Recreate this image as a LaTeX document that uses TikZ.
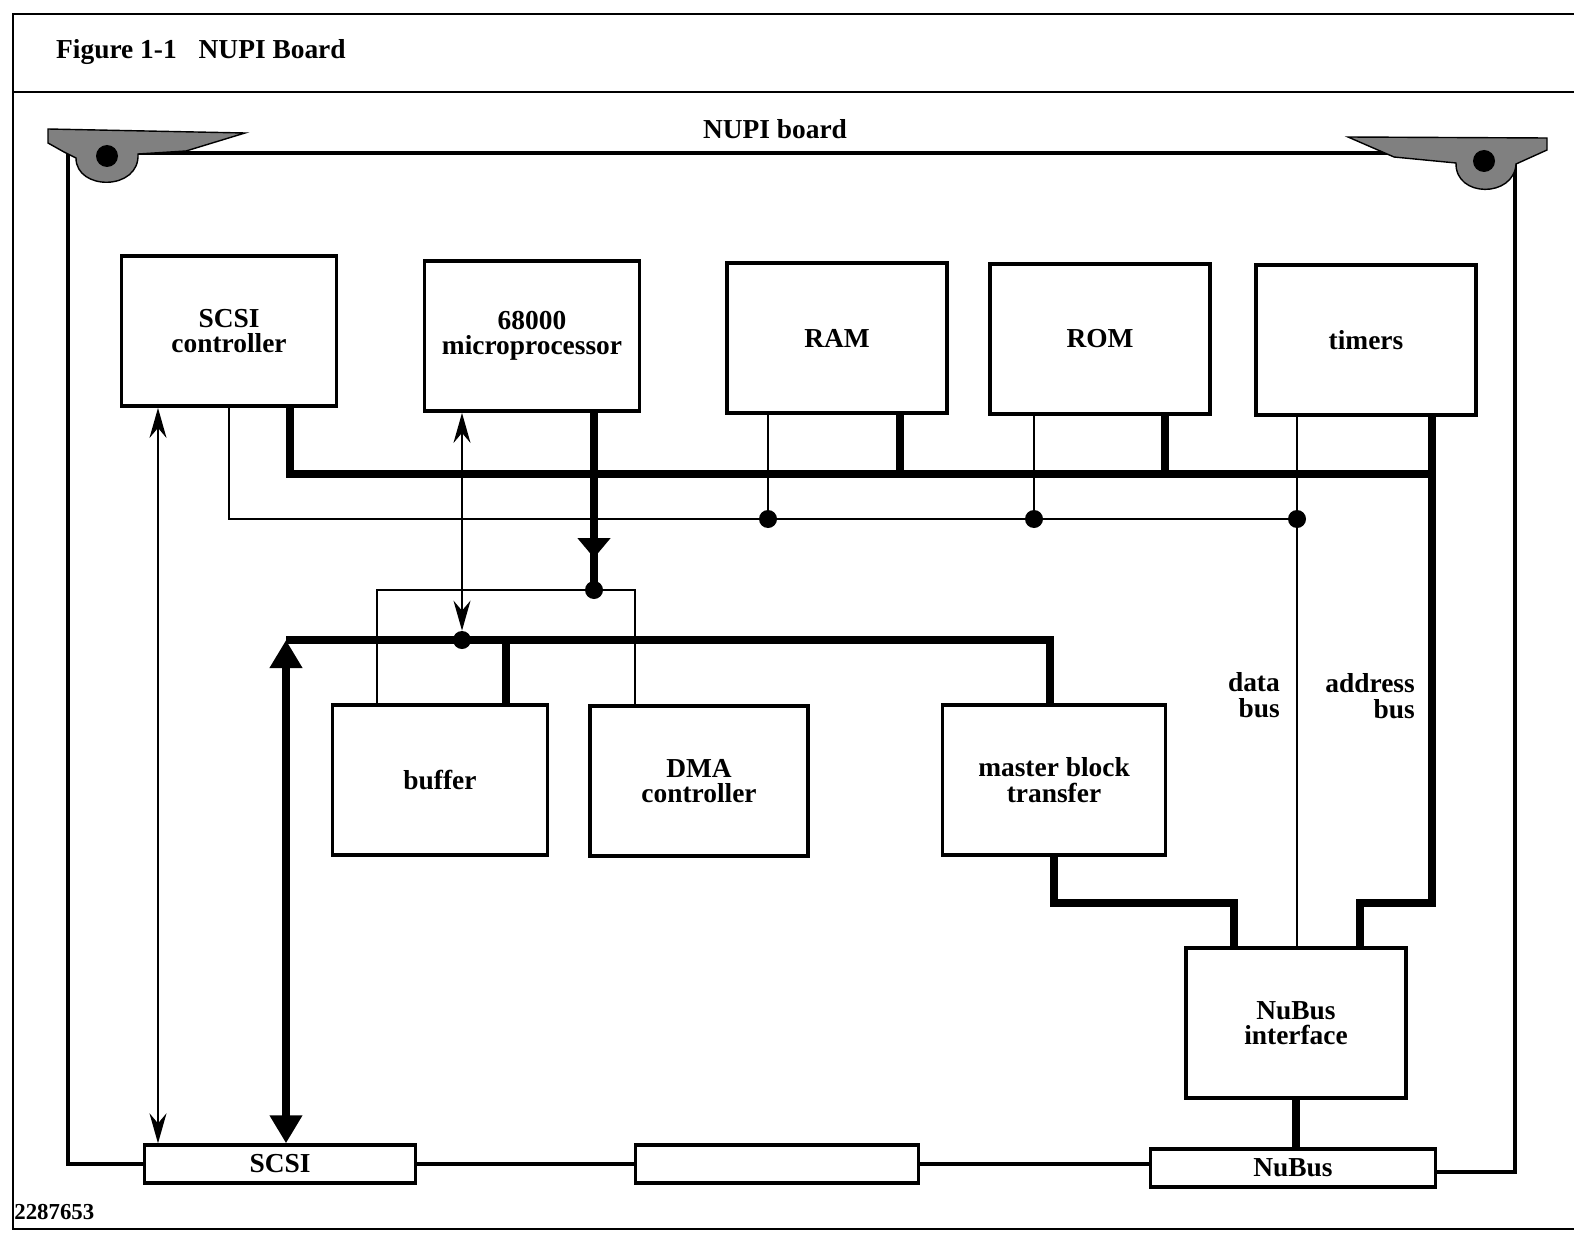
\documentclass[tikz,border=0pt]{standalone}
\usepackage{fontspec}
\setmainfont{Liberation Serif}
\usetikzlibrary{positioning,arrows.meta}
\newcommand{\boxfont}{\fontsize{15.6}{14.4}\selectfont\bfseries}
\newcommand{\numfont}{\fontsize{13}{13}\selectfont\bfseries}

\begin{document}
\begin{tikzpicture}[x=0.2mm, y=-0.2mm,
    blk/.style={draw, line width=2.2pt, minimum width=4.4cm, minimum height=3cm,
                align=center, inner sep=2pt, font=\boxfont},
    conn/.style={draw, line width=2.2pt, minimum height=0.75cm, inner sep=0pt,
                 font=\boxfont},
    frame/.style={line width=1.1pt},
    edge/.style={line width=2.2pt},
    bus/.style={line width=4.2pt},
    dbus/.style={line width=1.1pt},
    dot/.style={circle, fill, inner sep=0pt, minimum size=3.6mm},
    arr/.style={{Stealth[length=6mm, width=3.4mm, inset=2mm]}-{Stealth[length=6mm, width=3.4mm, inset=2mm]},
                line width=1.1pt},
    barr/.style={{Triangle[length=5.6mm, width=6.2mm]}-{Triangle[length=5.6mm, width=6.2mm]},
                 line width=4.2pt},
    ejector/.style={draw, line width=0.8pt, fill=black!50},
    lbl/.style={font=\boxfont, align=right}
  ]
  \useasboundingbox (0,0) rectangle (1574,1243);

  % ================= FRAME AND CAPTION =================
  \draw[frame] (1574,14) -- (13,14) -- (13,1229) -- (1574,1229);
  \draw[frame] (13,92) -- (1574,92);
  \node[anchor=west, font=\boxfont] (title) at (50,52) {Figure 1-1\hspace{0.8em}NUPI Board};
  \node[anchor=west, font=\numfont, inner sep=0pt] (figno) at (14,1212) {2287653};

  % ================= BOARD =================
  \node[font=\boxfont] (board) at (775,129) {NUPI board};

  \node[conn, minimum width=5.42cm] (scsicon)  at (280,1164) {SCSI};
  \node[conn, minimum width=5.66cm] (midcon)   at (777,1164) {};
  \node[conn, minimum width=5.7cm]  (nubuscon) at (1293,1168) {NuBus};

  \draw[edge] (scsicon.west) -- (68,1164) -- (68,153) -- (1515,153)
    -- (1515,1172) -- (nubuscon.east |- 0,1172);
  \draw[edge] (scsicon.east) -- (midcon.west);
  \draw[edge] (midcon.east) -- (nubuscon.west |- midcon.east);

  % card ejectors
  \draw[ejector] (48,129) -- (245,133) -- (186,151) -- (138,154)
    .. controls (140,191) and (76,191) .. (76,158) -- (64,152) -- (48,143) -- cycle;
  \fill (107,156) circle (11);
  \draw[ejector] (1348,137) -- (1547,138) -- (1547,150) -- (1516,164)
    .. controls (1514,198) and (1455,198) .. (1456,163) -- (1394,157) -- cycle;
  \fill (1484,161) circle (11);

  % ================= FUNCTIONAL BLOCKS =================
  \node[blk, minimum width=4.3cm] (scsictl) at (229,331) {SCSI\\controller};
  \node[blk, minimum width=4.3cm] (cpu)     at (532,336) {68000\\microprocessor};
  \node[blk] (ram)    at (837,338) {RAM};
  \node[blk] (rom)    at (1100,339) {ROM};
  \node[blk] (timers) at (1366,340) {timers};

  \node[blk, minimum width=4.3cm] (buffer) at (440,780) {buffer};
  \node[blk, minimum width=4.36cm] (dma)   at (699,781) {DMA\\controller};
  \node[blk, minimum width=4.46cm] (mbt)   at (1054,780) {master block\\transfer};
  \node[blk] (nubusif) at (1296,1023) {NuBus\\interface};

  % ================= ADDRESS BUS (thick) =================
  \coordinate (abL) at (290,474);
  \coordinate (abR) at (1432,474);
  \coordinate (ramA) at (900,474);
  \coordinate (romA) at (1165,474);
  \coordinate (abD) at (1432,903);
  \coordinate (abN) at (1360,903);
  \draw[bus] (scsictl.south -| abL) -- (abL) -- (abR);
  \draw[bus] (ram.south -| ramA) -- (ramA);
  \draw[bus] (rom.south -| romA) -- (romA);
  \draw[bus] (timers.south -| abR) -- (abD) -- (abN) -- (nubusif.north -| abN);

  % ================= DATA BUS (thin) =================
  \node[dot] (dram) at (768,519) {};
  \node[dot] (drom) at (1034,519) {};
  \node[dot] (dtim) at (1297,519) {};
  \draw[dbus] (scsictl.south) |- (dtim);
  \draw[dbus] (ram.south -| dram) -- (dram);
  \draw[dbus] (rom.south -| drom) -- (drom);
  \draw[dbus] (timers.south -| dtim) -- (nubusif.north -| dtim);

  % ================= LOCAL BUS =================
  \node[dot] (dcpu) at (594,590) {};
  \coordinate (cpuT) at (594,558);
  \coordinate (cpuS) at (594,548);
  \draw[bus, -{Triangle[length=4mm, width=6.4mm]}] (cpu.south -| dcpu) -- (cpuT);
  \draw[bus] (cpuS) -- (dcpu.center);
  \coordinate (splitL) at (377,590);
  \coordinate (splitR) at (635,590);
  \draw[dbus] (buffer.north -| splitL) -- (splitL) -- (splitR) -- (dma.north -| splitR);

  \coordinate (lbL) at (286,640);
  \coordinate (lbR) at (1050,640);
  \coordinate (bufA) at (506,640);
  \node[dot] (dbuf) at (462,640) {};
  \draw[bus] (lbL) -- (lbR) -- (mbt.north -| lbR);
  \draw[bus] (buffer.north -| bufA) -- (bufA);
  \draw[arr] (cpu.south -| dbuf) -- (dbuf);

  % SCSI paths to the connector
  \coordinate (scA) at (158,0);
  \draw[arr] (scsictl.south -| scA) -- (scsicon.north -| scA);
  \draw[barr] (lbL) -- (scsicon.north -| lbL);

  % NuBus side
  \coordinate (mbN) at (1234,903);
  \draw[bus] (mbt.south) |- (mbN) -- (nubusif.north -| mbN);
  \draw[bus] (nubusif.south) -- (nubusif.south |- nubuscon.north);

  \node[lbl, anchor=east] (datalbl) at (1286,695) {data\\bus};
  \node[lbl, anchor=east] (addrlbl) at (1421,696) {address\\bus};

\end{tikzpicture}
\end{document}
